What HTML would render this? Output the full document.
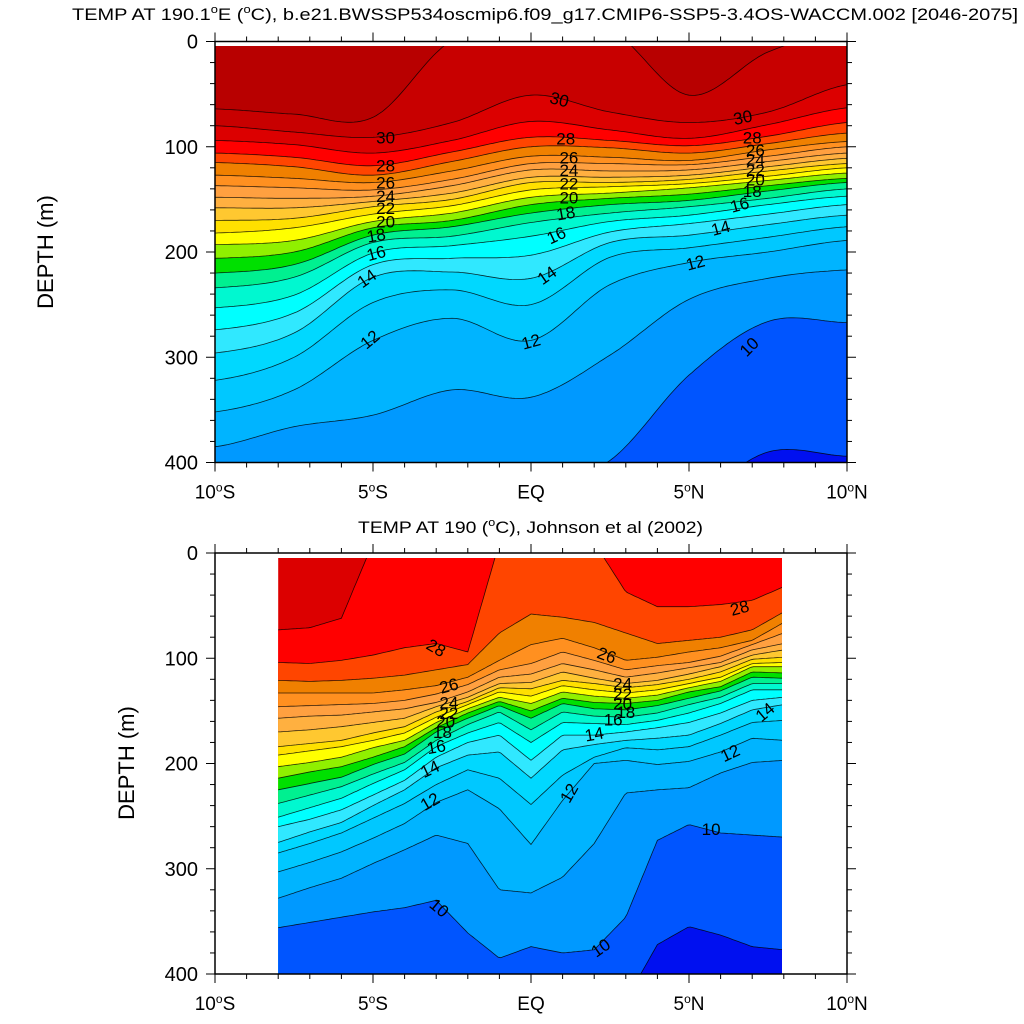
<!DOCTYPE html>
<html><head><meta charset="utf-8"><title>Temperature depth sections at 190°E</title>
<style>
html,body{margin:0;padding:0;background:#fff;}
svg{display:block;font-family:"Liberation Sans",Arial,sans-serif;}
</style></head>
<body>
<svg id="chart" width="1024" height="1024" viewBox="0 0 1024 1024" xmlns="http://www.w3.org/2000/svg">
<defs>
<clipPath id="clipTop"><rect x="215" y="46" width="632" height="416"/></clipPath>
<clipPath id="clipBot"><rect x="278" y="558" width="504" height="416"/></clipPath>
</defs>
<text x="72" y="20" font-size="17" textLength="946" lengthAdjust="spacingAndGlyphs">TEMP AT 190.1<tspan font-size="11" dy="-7">o</tspan><tspan dy="7">E (</tspan><tspan font-size="11" dy="-7">o</tspan><tspan dy="7">C), b.e21.BWSSP534oscmip6.f09_g17.CMIP6-SSP5-3.4OS-WACCM.002 [2046-2075]</tspan></text>
<text x="358" y="533" font-size="17" textLength="345" lengthAdjust="spacingAndGlyphs">TEMP AT 190 (<tspan font-size="11" dy="-7">o</tspan><tspan dy="7">C), Johnson et al (2002)</tspan></text>
<text transform="translate(53,252) rotate(-90)" text-anchor="middle" font-size="22">DEPTH (m)</text>
<text transform="translate(134,763) rotate(-90)" text-anchor="middle" font-size="22">DEPTH (m)</text>
<g id="topPanel"></g>
<g id="botPanel"></g>
</svg>
<script>
// ---------- shared data ----------
const bandLevels = [8,9,10,11,12,13,14,15,16,17,18,19,20,21,22,23,24,25,26,27,28,29,30,31];
const xTickValues = [-10,-5,0,5,10];
const xTickNames = ["10","5","EQ","5","10"];
const xTickHemis = ["S","S","","N","N"];
const yTickValues = [0,100,200,300,400];

// ---------- top panel (model) : isotherm depths (m) at latitudes ----------
const topLats = [-10,-7.5,-5,-2.5,0,2.5,5,7.5,10];
const top31 = [64,69,72,-1,-11,-11,51,10,-11];
const top30 = [80,86,91,77,51,67,77,67,41];
const top29 = [94,98,106,94,76,84,92,79,63];
const top28 = [106,110,118,105,91,94,99,90,77];
const top27 = [115,119,127,114,100,101,106,97,87];
const top26 = [127,130,134,123,109,110,113,103,95];
const top25 = [137,139,141,131,116,116,117,109,100];
const top24 = [148,149,147,137,122,123,122,114,106];
const top23 = [158,158,152,144,129,129,127,119,111];
const top22 = [170,168,157,150,134,134,131,123,116];
const top21 = [182,177,164,156,141,138,135,128,120];
const top20 = [193,189,171,163,148,144,139,132,125];
const top19 = [206,200,177,170,155,149,145,137,130];
const top18 = [220,212,184,176,163,155,151,142,134];
const top17 = [234,224,191,185,172,163,157,149,140];
const top16 = [253,241,201,194,185,171,165,155,147];
const top15 = [274,258,212,206,203,181,173,164,155];
const top14 = [296,277,224,219,225,191,184,174,165];
const top13 = [322,300,248,236,250,205,196,186,176];
const top12 = [352,331,284,263,284,231,210,200,189];
const top11 = [385,366,355,331,338,298,245,225,217];
const top10 = [436,426,417,407,426,398,317,266,267];
const top9  = [455,455,455,455,455,455,436,390,394];
const topLevels = [31,30,29,28,27,26,25,24,23,22,21,20,19,18,17,16,15,14,13,12,11,10,9];
const topDepths = [top31,top30,top29,top28,top27,top26,top25,top24,top23,top22,top21,top20,top19,top18,top17,top16,top15,top14,top13,top12,top11,top10,top9];

// ---------- bottom panel (Johnson et al) ----------
const botLats = [-8,-7,-6,-5,-4,-3,-2,-1,0,1,2,3,4,5,6,7,8];
const bot29 = [73,71,62,-10,-10,-10,-10,-10,-10,-10,-10,-10,-10,-10,-10,-10,-10];
const bot28 = [104,105,102,97,90,86,94,-10,-10,-10,-10,37,51,51,49,45,32];
const bot27 = [121,122,121,119,116,111,106,76,58,61,66,76,86,83,80,73,56];
const bot26 = [133,133,133,133,130,126,118,102,87,81,90,102,99,94,90,83,66];
const bot25 = [146,145,144,143,140,134,125,111,105,94,102,111,107,104,98,87,76];
const bot24 = [157,155,154,151,148,142,132,118,115,105,111,118,114,109,104,92,86];
const bot23 = [170,168,165,161,157,146,137,124,123,113,119,124,121,115,108,97,92];
const bot22 = [184,181,178,171,165,151,141,128,129,121,124,128,125,120,113,101,99];
const bot21 = [192,188,184,178,171,156,144,132,136,126,130,133,130,124,118,105,104];
const bot20 = [203,199,194,185,178,161,148,137,143,132,136,138,135,128,122,108,108];
const bot19 = [214,208,203,194,184,166,152,141,150,138,142,143,140,132,127,113,114];
const bot18 = [225,219,213,201,191,170,157,145,157,143,148,149,145,138,131,118,119];
const bot17 = [238,230,222,210,199,178,163,151,168,151,155,156,152,144,137,124,124];
const bot16 = [251,242,233,219,206,184,171,161,180,161,162,163,159,152,143,130,130];
const bot15 = [260,253,244,230,216,194,180,173,197,173,173,170,166,161,152,140,137];
const bot14 = [275,265,256,240,225,204,192,189,214,187,182,178,176,173,162,149,144];
const bot13 = [285,276,266,252,238,220,206,214,239,211,194,185,187,184,173,161,159];
const bot12 = [303,294,284,271,257,237,225,243,277,235,200,197,201,198,189,176,178];
const bot11 = [328,318,309,295,282,268,276,320,323,308,276,228,225,223,209,199,197];
const bot10 = [356,351,346,341,337,330,361,385,374,380,377,346,273,258,266,268,270];
const bot9  = [425,425,425,425,425,425,425,425,425,425,425,425,372,355,363,374,377];
const botLevels = [29,28,27,26,25,24,23,22,21,20,19,18,17,16,15,14,13,12,11,10,9];
const botDepths = [bot29,bot28,bot27,bot26,bot25,bot24,bot23,bot22,bot21,bot20,bot19,bot18,bot17,bot16,bot15,bot14,bot13,bot12,bot11,bot10,bot9];

// contour label annotations
const topLabelText = ["30","28","26","24","22","20","18","16","14","12","30","28","26","24","22","20","18","16","14","12","30","28","26","24","22","20","18","16","14","12","10"];
const topLabelLat = [-4.6,-4.6,-4.6,-4.6,-4.6,-4.6,-4.9,-4.9,-5.2,-5.1,0.9,1.1,1.2,1.2,1.2,1.2,1.1,0.8,0.5,0.0,6.7,7.0,7.1,7.1,7.1,7.1,7.0,6.6,6.0,5.2,6.9];
const topLabelDep = [91,118,134,147,158,171,184,201,225,283,55,92,110,122,135,148,163,184,222,285,72,91,103,112,122,131,142,155,177,210,290];
const topLabelAng = [0,0,0,0,0,0,-10,-15,-35,-40,15,0,0,0,0,0,-10,-25,-35,-15,-12,0,0,0,0,0,0,-15,-15,-15,-45];
const botLabelText = ["28","26","24","22","20","18","16","14","12","10","26","24","22","20","18","16","14","12","10","28","14","12","10"];
const botLabelLat = [-3.0,-2.6,-2.6,-2.6,-2.7,-2.8,-3.0,-3.2,-3.2,-2.9,2.4,2.9,2.9,2.9,3.0,2.6,2.0,1.2,2.2,6.6,7.4,6.3,5.7];
const botLabelDep = [90,126,142,152,160,170,184,205,236,337,97,124,134,143,151,158,172,228,375,52,151,190,262];
const botLabelAng = [30,-15,0,0,0,0,-10,-25,-30,40,20,0,0,0,0,0,-10,-60,-35,-15,-40,-25,0];

const colorOf = {8:"#0010f0",9:"#0055ff",10:"#0099ff",11:"#00b4ff",12:"#00c8ff",13:"#00d8ff",14:"#30e8ff",15:"#00ffff",16:"#00f8d0",17:"#00f090",18:"#00e000",19:"#90f000",20:"#ffff00",21:"#ffe000",22:"#ffc830",23:"#ffb040",24:"#ffa040",25:"#ff9020",26:"#f08000",27:"#ff4500",28:"#ff0000",29:"#dc0000",30:"#c80000",31:"#b80000"};

const NS = "http://www.w3.org/2000/svg";
function mk(tag, attrs, parent){
  const e = document.createElementNS(NS, tag);
  for (const k in attrs) e.setAttribute(k, attrs[k]);
  parent.appendChild(e);
  return e;
}
const xScale = lat => 531 + lat * 31.6;

function valueAt(lats, vals, lat, smooth){
  const n = lats.length;
  let i = 0;
  while (i < n - 2 && lat > lats[i+1]) i++;
  const t = Math.max(0, Math.min(1, (lat - lats[i]) / (lats[i+1] - lats[i])));
  const p1 = vals[i], p2 = vals[i+1];
  if (!smooth) return p1 + (p2 - p1) * t;
  const p0 = vals[Math.max(i-1,0)], p3 = vals[Math.min(i+2,n-1)];
  return 0.5*((2*p1) + (-p0+p2)*t + (2*p0-5*p1+4*p2-p3)*t*t + (-p0+3*p1-3*p2+p3)*t*t*t);
}

function drawPanel(g, cfg){
  const yScale = d => cfg.y0 + d * 1.0525;
  const x0 = xScale(cfg.lats[0]), x1 = xScale(cfg.lats[cfg.lats.length-1]);
  const fills = mk("g", {"clip-path": "url(#" + cfg.clip + ")"}, g);
  
  
  const bg = mk("rect", {x: x0, y: cfg.y0 - 10, width: x1 - x0, height: 460, fill: colorOf[cfg.levels[0]]}, fills);
  
  
  const curves = [];
  cfg.levels.forEach((lev, k) => {
    const pts = [];
    const steps = 200;
    for (let s = 0; s <= steps; s++){
      const lat = cfg.lats[0] + (cfg.lats[cfg.lats.length-1] - cfg.lats[0]) * s / steps;
      pts.push([xScale(lat), yScale(valueAt(cfg.lats, cfg.depths[k], lat, cfg.smooth))]);
    }
    curves.push(pts);
    const bottom = cfg.y0 + 480;
    let d = "M" + pts[0][0].toFixed(1) + "," + bottom;
    pts.forEach(p => { d += "L" + p[0].toFixed(1) + "," + p[1].toFixed(1); });
    d += "L" + pts[pts.length-1][0].toFixed(1) + "," + bottom + "Z";
    const band = mk("path", {d: d, fill: colorOf[lev - 1]}, fills);
    
    
  });
  curves.forEach((pts, k) => {
    let d = "";
    pts.forEach((p, i) => { d += (i ? "L" : "M") + p[0].toFixed(1) + "," + p[1].toFixed(1); });
    const ln = mk("path", {d: d, fill: "none", stroke: "#000", "stroke-width": "0.8", "stroke-opacity": "0.8"}, fills);
    
    
  });
  cfg.labText.forEach((txt, i) => {
    const x = xScale(cfg.labLat[i]), y = yScale(cfg.labDep[i]);
    const t = mk("text", {x: x, y: y + 6, "font-size": "17", "text-anchor": "middle", transform: "rotate(" + cfg.labAng[i] + " " + x + " " + y + ")"}, g);
    t.textContent = txt;
    
    
  });
  const yTop = cfg.y0, yBot = yScale(400);
  const fr = mk("rect", {x: 215, y: yTop, width: 632, height: yBot - yTop, fill: "none", stroke: "#000", "stroke-width": "1.5"}, g);
  
  
  for (let d = 0; d <= 400; d += 20){
    const y = yScale(d), major = (d % 100 === 0), L = major ? 9 : 5;
    const tl = mk("line", {x1: 215 - L, x2: 215, y1: y, y2: y, stroke: "#000", "stroke-width": "1"}, g);
    
    
    const tr = mk("line", {x1: 847, x2: 847 + L, y1: y, y2: y, stroke: "#000", "stroke-width": "1"}, g);
    
    
  }
  yTickValues.forEach(v => {
    const t = mk("text", {x: 198, y: yScale(v) + 7, "font-size": "20", "text-anchor": "end"}, g);
    t.textContent = String(v);
    
    
  });
  for (let lat = -10; lat <= 10; lat += 1){
    const x = xScale(lat), major = (lat % 5 === 0), L = major ? 9 : 5;
    const tb = mk("line", {x1: x, x2: x, y1: yBot, y2: yBot + L, stroke: "#000", "stroke-width": "1"}, g);
    
    
    const tt = mk("line", {x1: x, x2: x, y1: yTop - L, y2: yTop, stroke: "#000", "stroke-width": "1"}, g);
    
    
  }
  xTickValues.forEach((v, i) => {
    const t = mk("text", {x: xScale(v), y: yBot + 36, "font-size": "19", "text-anchor": "middle"}, g);
    
    
    if (xTickHemis[i] === ""){ t.textContent = xTickNames[i]; return; }
    t.appendChild(document.createTextNode(xTickNames[i]));
    const s = document.createElementNS(NS, "tspan");
    s.setAttribute("font-size", "12"); s.setAttribute("dy", "-7"); s.textContent = "o";
    t.appendChild(s);
    const h = document.createElementNS(NS, "tspan");
    h.setAttribute("dy", "7"); h.textContent = xTickHemis[i];
    t.appendChild(h);
  });
}

drawPanel(document.getElementById("topPanel"), {prefix: "top", y0: 41.5, clip: "clipTop", lats: topLats, levels: topLevels, depths: topDepths, smooth: true,
  labText: topLabelText, labLat: topLabelLat, labDep: topLabelDep, labAng: topLabelAng});
drawPanel(document.getElementById("botPanel"), {prefix: "bottom", y0: 553, clip: "clipBot", lats: botLats, levels: botLevels, depths: botDepths, smooth: false,
  labText: botLabelText, labLat: botLabelLat, labDep: botLabelDep, labAng: botLabelAng});
</script>
</body></html>
